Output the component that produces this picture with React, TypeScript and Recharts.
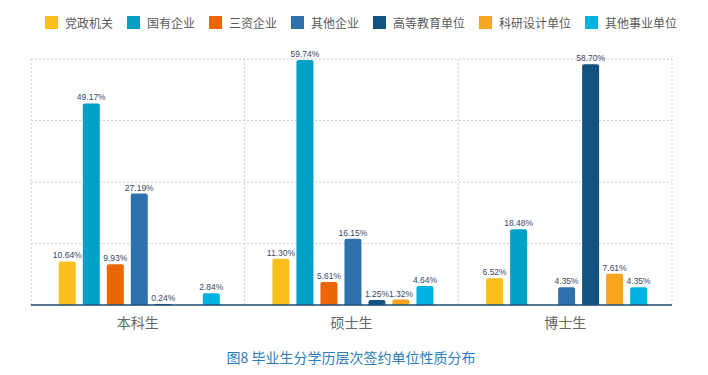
import {
  Bar,
  BarChart,
  CartesianGrid,
  LabelList,
  XAxis,
  YAxis,
} from "recharts";

const categories = ["本科生", "硕士生", "博士生"];

const seriesNames = [
  "党政机关",
  "国有企业",
  "三资企业",
  "其他企业",
  "高等教育单位",
  "科研设计单位",
  "其他事业单位",
];

const seriesColors = [
  "#FBBF1B",
  "#00A0C7",
  "#EC6608",
  "#2E72AD",
  "#13527F",
  "#F7A51E",
  "#00B2E2",
];

// values per series, in category order (本科生, 硕士生, 博士生); null = not shown
const partyGov = [10.64, 11.3, 6.52];
const stateOwned = [49.17, 59.74, 18.48];
const foreignFunded = [9.93, 5.61, null];
const otherEnterprise = [27.19, 16.15, 4.35];
const higherEdu = [0.24, 1.25, 58.7];
const research = [null, 1.32, 7.61];
const otherInstitution = [2.84, 4.64, 4.35];

const yTicks = [0, 15, 30, 45, 60];

const seriesValues = [
  partyGov,
  stateOwned,
  foreignFunded,
  otherEnterprise,
  higherEdu,
  research,
  otherInstitution,
];

const data = categories.map((name, i) => {
  const row: Record<string, string | number | null> = { name };
  seriesNames.forEach((s, j) => {
    row[s] = seriesValues[j][i];
  });
  return row;
});

const cjk = '"Noto Sans CJK SC", "Noto Sans", sans-serif';

function fmt(v: any) {
  if (v === null || v === undefined) return "";
  return `${Number(v).toFixed(2)}%`;
}

function ChartLegend() {
  return (
    <div
      style={{
        position: "absolute",
        left: 45,
        top: 14,
        display: "flex",
        alignItems: "center",
        fontFamily: cjk,
        fontSize: 12,
        color: "#595959",
        whiteSpace: "nowrap",
      }}
    >
      {seriesNames.map((s, i) => (
        <div
          key={s}
          style={{ display: "flex", alignItems: "center", marginRight: 14 }}
        >
          <span
            style={{
              width: 13,
              height: 13,
              background: seriesColors[i],
              marginRight: 7,
              display: "inline-block",
            }}
          />
          <span>{s}</span>
        </div>
      ))}
    </div>
  );
}

export default function App() {
  return (
    <div
      style={{
        position: "absolute",
        left: 0,
        top: 0,
        width: 708,
        height: 375,
        background: "#fff",
        overflow: "hidden",
      }}
    >
      <ChartLegend />
      <BarChart
        width={708}
        height={375}
        data={data}
        margin={{ top: 59, right: 36, bottom: 40, left: 31 }}
        barCategoryGap="13%"
        barGap={7}
      >
        <CartesianGrid
          stroke="#cfcfcf"
          strokeDasharray="2 2"
          verticalCoordinatesGenerator={({ offset }: any) => {
            const step = offset.width / categories.length;
            return categories
              .map((_, i) => offset.left + step * i)
              .concat(offset.left + offset.width);
          }}
        />
        <XAxis
          dataKey="name"
          height={30}
          axisLine={{ stroke: "#1F4E79", strokeWidth: 1.5 }}
          tickLine={false}
          tickMargin={7}
          tick={{ fill: "#666666", fontSize: 14, fontFamily: cjk }}
        />
        <YAxis hide domain={[0, 60]} ticks={yTicks} />
        {seriesNames.map((s, i) => (
          <Bar
            key={s}
            dataKey={s}
            fill={seriesColors[i]}
            radius={[2, 2, 0, 0]}
            isAnimationActive={false}
          >
            <LabelList
              dataKey={s}
              position="top"
              offset={3}
              formatter={fmt}
              style={{
                fill: "#3a4866",
                fontSize: 8.5,
                fontFamily: '"Liberation Sans", Arial, sans-serif',
              }}
            />
          </Bar>
        ))}
      </BarChart>
      <div
        style={{
          position: "absolute",
          left: 0,
          width: 702,
          top: 347,
          textAlign: "center",
          fontFamily: cjk,
          fontSize: 14,
          color: "#2A7CBD",
        }}
      >
        图8 毕业生分学历层次签约单位性质分布
      </div>
    </div>
  );
}
